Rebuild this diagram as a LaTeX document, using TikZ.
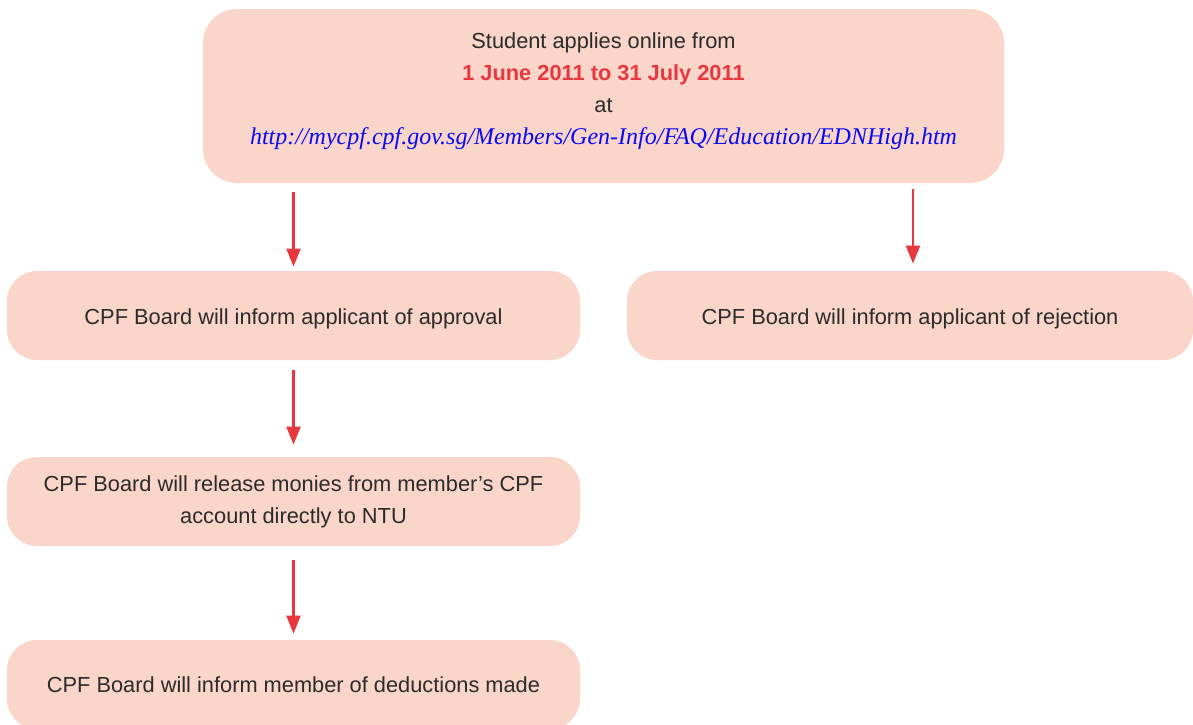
\documentclass[tikz,border=0pt]{standalone}
\usepackage{fontspec}
\setmainfont{Liberation Sans}
\newfontfamily\urlfont{Liberation Serif}
\usetikzlibrary{arrows.meta}
\definecolor{boxpink}{HTML}{FAD5CA}
\definecolor{flowred}{HTML}{E8383F}
\definecolor{textgray}{HTML}{2B2B2B}
\definecolor{linkblue}{HTML}{0A0AF0}
\tikzset{
  stagebox/.style={fill=boxpink, rounded corners=15pt, align=center, text=textgray,
    minimum width=286.5pt, minimum height=44.5pt, inner sep=0pt,
    font=\fontsize{10.9}{16}\selectfont},
  lowtext/.style={text height=11.6pt, text depth=2.3pt},
  flow/.style={flowred, line width=1.1pt, -{Triangle[length=9pt,width=7pt]}}
}
\begin{document}
\begin{tikzpicture}[x=0.5pt, y=-0.5pt]
    \useasboundingbox (0,0) rectangle (1193,724);
    \node[stagebox, minimum width=400.5pt, minimum height=87pt, rounded corners=17pt] (apply) at (603.5,96)
        {Student applies online from\\
         {\color{flowred}\bfseries 1 June 2011 to 31 July 2011}\\
         at\\
         {\urlfont\itshape\fontsize{12}{16}\selectfont\color{linkblue}http://mycpf.cpf.gov.sg/Members/Gen-Info/FAQ/Education/EDNHigh.htm}\rule[-7.6pt]{0pt}{0pt}};
    \node[stagebox, lowtext] (approval) at (293.5,315.5) {CPF Board will inform applicant of approval};
    \node[stagebox, lowtext, minimum width=283pt] (rejection) at (910,315.5) {CPF Board will inform applicant of rejection};
    \node[stagebox] (release) at (293.5,501.5) {CPF Board will release monies from member's CPF\\account directly to NTU};
    \node[stagebox] (deduction) at (293.5,684.5) {CPF Board will inform member of deductions made};
    \coordinate (rejtop) at ([xshift=1.5pt]rejection.north);
    % arrows
    \draw[flow, shorten <=4.5pt, shorten >=2pt] (approval.north |- apply.south) -- (approval.north);
    \draw[flow, shorten <=3pt, shorten >=3.5pt] (rejtop |- apply.south) -- (rejtop);
    \draw[flow, shorten <=5pt, shorten >=6pt] (approval) -- (release);
    \draw[flow, shorten <=7pt, shorten >=3pt] (release) -- (deduction);
\end{tikzpicture}
\end{document}
